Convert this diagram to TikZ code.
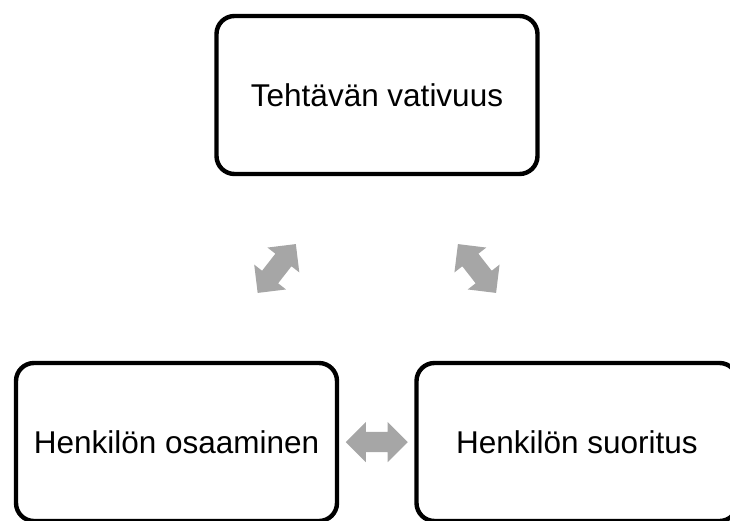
\documentclass[tikz,border=0pt]{standalone}
\usepackage{fontspec}
\setmainfont{Liberation Sans}
\usetikzlibrary{shapes.arrows,positioning,calc}
\definecolor{arrgray}{RGB}{166,166,166}
\tikzset{
  card/.style={draw,line width=4.4pt,rounded corners=18pt,align=center,font=\fontsize{31.5}{38}\selectfont,minimum width=321pt,minimum height=158pt,inner sep=0pt},
  dblarr/.style={double arrow,fill=arrgray,draw=none,inner xsep=0pt,inner ysep=10pt,minimum height=62pt,double arrow head extend=10pt}
}
\begin{document}
\begin{tikzpicture}[x=1pt,y=-1pt]
\clip (0,0) rectangle (730,520);
\node[card] (vat) at (377,95) {Tehtävän vativuus};
\node[card] (osa) at (176.5,442) {Henkilön osaaminen};
\node[card] (suo) at (577,442) {Henkilön suoritus};
\node[dblarr,rotate=52] (a1) at ($(vat.south west)!0.5!(osa.north east)$) {};
\node[dblarr,rotate=-52] (a2) at ($(vat.south east)!0.5!(suo.north west)$) {};
\node[dblarr] (a3) at ($(osa.east)!0.5!(suo.west)$) {};
\end{tikzpicture}
\end{document}
